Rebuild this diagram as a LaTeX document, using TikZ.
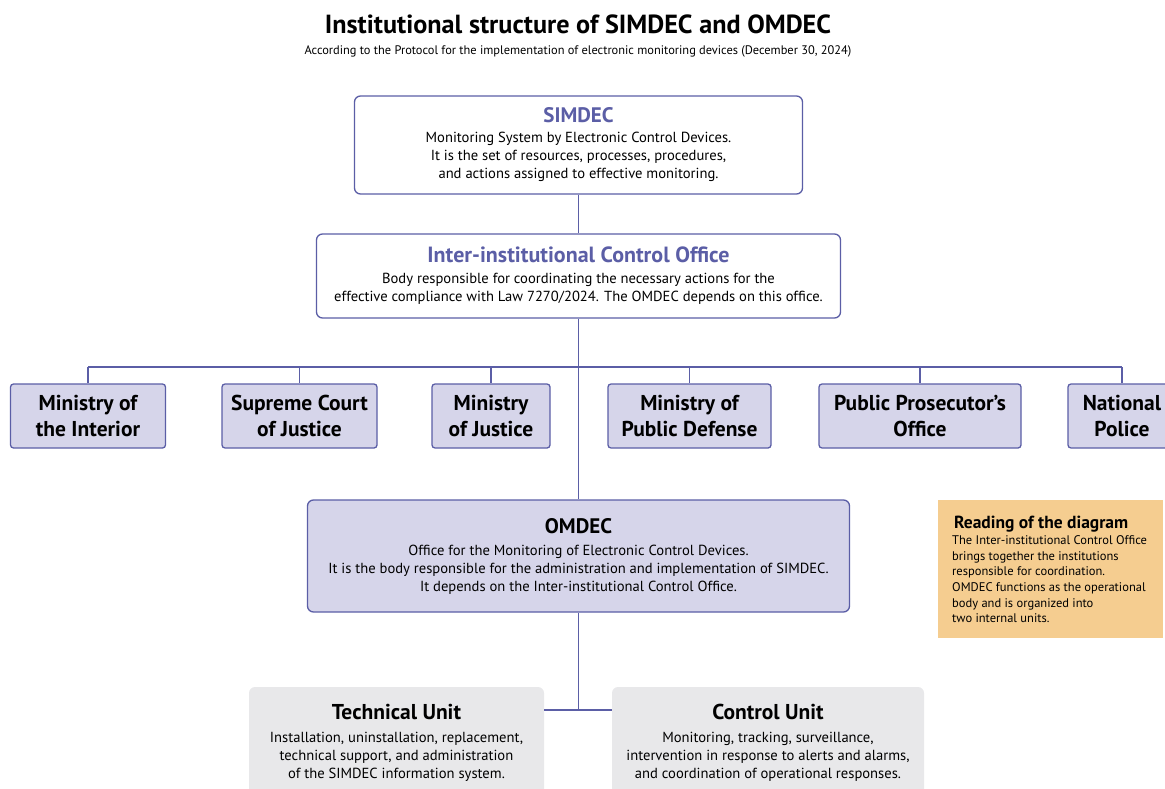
\documentclass[tikz,border=0pt]{standalone}
\usepackage{fontspec}
\setmainfont{PT Sans}
\definecolor{simline}{HTML}{5B5EA6}
\definecolor{simfill}{HTML}{D6D5EA}
\definecolor{unitgray}{HTML}{E8E8EA}
\definecolor{notefill}{HTML}{F5CD90}
\newcommand{\fs}[2]{\fontsize{#1}{#2}\selectfont}

\begin{document}
\begin{tikzpicture}[x=1pt,y=-1pt]
   \tikzstyle{every node}=[inner sep=0pt, align=center]
   \tikzstyle{topbox}=[draw=simline, fill=white, line width=1.3pt, rounded corners=6pt, font=\fs{14.6}{18}]
   \tikzstyle{omdecbox}=[draw=simline, fill=simfill, line width=1.3pt, rounded corners=6pt, font=\fs{14.6}{18}]
   \tikzstyle{ministry}=[draw=simline, fill=simfill, line width=1.3pt, rounded corners=3pt, minimum height=64pt, font=\fs{21.5}{26}\bfseries]
   \tikzstyle{unit}=[fill=unitgray, rounded corners=6pt, minimum height=112pt, font=\fs{14.6}{18}]
   \tikzstyle{link}=[simline, line width=1.3pt]

\useasboundingbox (0,0) rectangle (1165,789);

\node (title) at (578,24) {\fs{26.2}{30}\bfseries Institutional structure of SIMDEC and OMDEC};
\node (subtitle) at (578,51) {\fs{12.4}{14}According to the Protocol for the implementation of electronic monitoring devices (December 30, 2024)};

\node[topbox, minimum width=448pt, minimum height=98pt] (simdec) at (578.5,145)
    {{\color{simline}\fs{21}{22}\bfseries SIMDEC}\\[2pt]
     Monitoring System by Electronic Control Devices.\\
     It is the set of resources, processes, procedures,\\
     and actions assigned to effective monitoring.};
\node[topbox, minimum width=524pt, minimum height=84pt] (ico) at (578.5,276)
    {{\color{simline}\fs{22}{22}\bfseries Inter-institutional Control Office}\\[3pt]
     Body responsible for coordinating the necessary actions for the\\
     effective compliance with Law 7270/2024. The OMDEC depends on this office.};

% ministries
\node[ministry, minimum width=155pt] (m1) at (88,416) {Ministry of\\the Interior};
\node[ministry, minimum width=155pt] (m2) at (299.5,416) {Supreme Court\\of Justice};
\node[ministry, minimum width=118pt] (m3) at (491,416) {Ministry\\of Justice};
\node[ministry, minimum width=163pt] (m4) at (689.5,416) {Ministry of\\Public Defense};
\node[ministry, minimum width=202pt] (m5) at (920,416) {Public Prosecutor’s\\Office};
\node[ministry, minimum width=108pt] (m6) at (1122,416) {National\\Police};

\node[omdecbox, minimum width=542pt, minimum height=112pt] (omdec) at (578.5,556)
    {{\fs{21}{22}\bfseries OMDEC}\\[4pt]
     Office for the Monitoring of Electronic Control Devices.\\
     It is the body responsible for the administration and implementation of SIMDEC.\\
     It depends on the Inter-institutional Control Office.};

\node[unit, minimum width=295pt] (tech) at (396.5,743)
    {{\fs{21.5}{22}\bfseries Technical Unit}\\[5pt]
     Installation, uninstallation, replacement,\\
     technical support, and administration\\
     of the SIMDEC information system.};
\node[unit, minimum width=312pt] (ctrl) at (768,743)
    {{\fs{21.5}{22}\bfseries Control Unit}\\[5pt]
     Monitoring, tracking, surveillance,\\
     intervention in response to alerts and alarms,\\
     and coordination of operational responses.};

\node[fill=notefill, minimum width=225pt, minimum height=138pt, anchor=north west] (note) at (938,500)
    {\begin{minipage}{197pt}\raggedright
     \hspace*{2pt}{\fs{17.5}{18}\bfseries Reading of the diagram}\\[1pt]
     \fs{12.5}{15.6}The Inter-institutional Control Office\\
     brings together the institutions\\
     responsible for coordination.\\
     OMDEC functions as the operational\\
     body and is organized into\\
     two internal units.
     \end{minipage}};

% connectors
\coordinate (bus) at (578.5,367);
\coordinate (split) at (578.5,710);
\draw[link] (simdec.south) -- (ico.north);
\draw[link] (ico.south) -- (omdec.north);
\draw[link] (m1.north |- bus) -- (m6.north |- bus);
\foreach \m in {m1,m2,m3,m4,m5,m6}
    \draw[link] (\m.north) -- (\m.north |- bus);
\draw[link] (omdec.south) -- (split);
\draw[link] (tech.east |- split) -- (ctrl.west |- split);

\end{tikzpicture}
\end{document}
